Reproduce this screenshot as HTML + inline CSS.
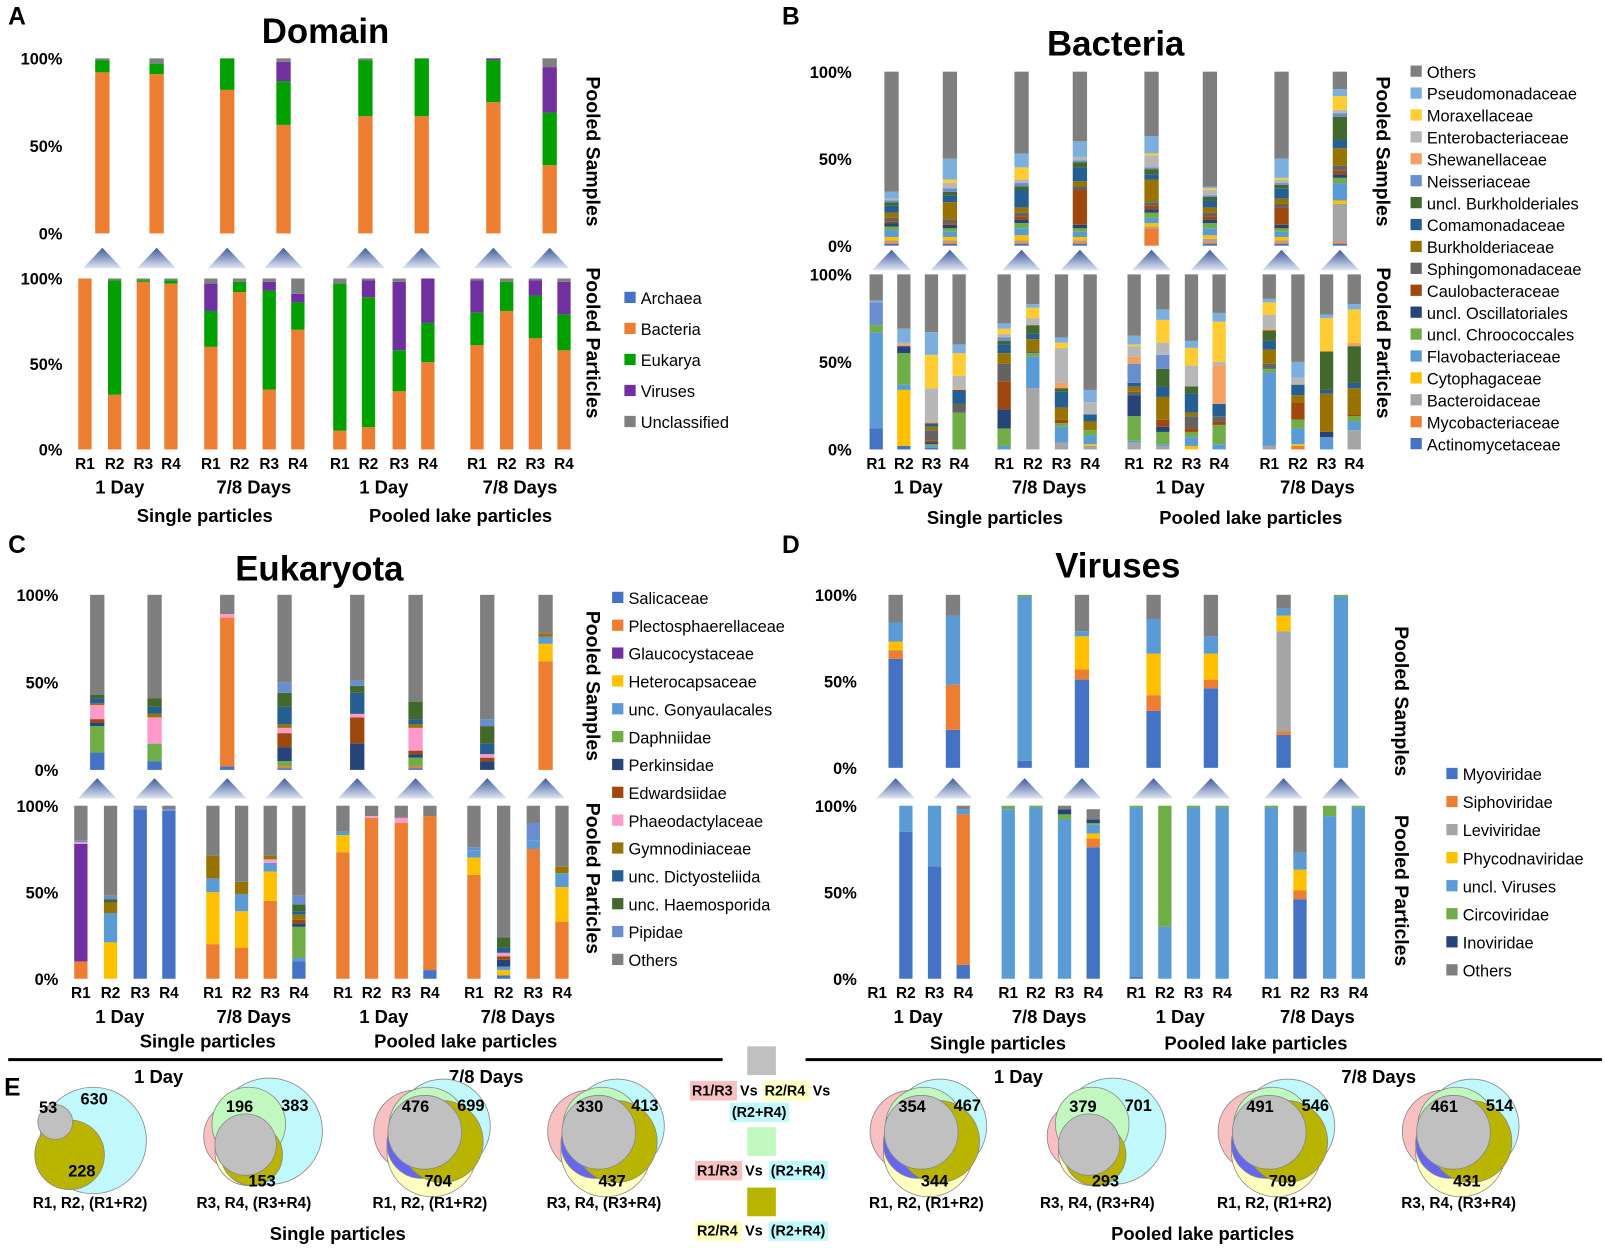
<!DOCTYPE html>
<html><head><meta charset="utf-8"><title>Microbial composition figure</title>
<style>
html,body{margin:0;padding:0;background:#fff;}
svg{display:block;font-family:"Liberation Sans",sans-serif;}
.tk{font-size:16px;font-weight:bold;text-anchor:end;}
.rl{font-size:15px;font-weight:bold;text-anchor:middle;}
.gl{font-size:18px;font-weight:bold;text-anchor:middle;}
.lg{font-size:16px;}
.vt{font-size:19px;font-weight:bold;text-anchor:middle;}
.ttl{font-size:34px;font-weight:bold;text-anchor:middle;}
.pl{font-size:24px;font-weight:bold;}
.vn{font-size:16px;font-weight:bold;text-anchor:middle;}
</style></head>
<body>
<svg id="fig" width="1605" height="1248" viewBox="0 0 1568 1219" preserveAspectRatio="none" xmlns="http://www.w3.org/2000/svg">
<defs>
<linearGradient id="tri" x1="0" y1="0" x2="0" y2="1"><stop offset="0" stop-color="#3d5a9a"/><stop offset="1" stop-color="#dfe6f3"/></linearGradient>
</defs>
</svg>
<script>
// ---------- Panel A: Domain ----------
const domainCats = ["Archaea","Bacteria","Eukarya","Viruses","Unclassified"];
const domainColors = ["#4472C4","#ED7D31","#00A000","#7030A0","#7F7F7F"];
const domainTop = [[0,92,7,0,1],[0,91,6,0,3],[0,82,18,0,0],[0,62,25,11,2],[0,67,32,0,1],[0,67,33,0,0],[0,75,24,1,0],[0,39,30,26,5]];
const domainBottom = [[0,100,0,0,0],[0,32,67,0,1],[0,98,1,0,1],[0,97,2,0,1],[0,60,21,16,3],[0,92,6,0,2],[0,35,58,5,2],[0,70,16,5,9],[0,11,86,0,3],[0,13,76,10,1],[0,34,24,40,2],[0,51,23,26,0],[0,61,19,19,1],[0,81,17,0,2],[0,65,25,9,1],[0,58,21,19,2]];
// ---------- Panel B: Bacteria (bottom-up order) ----------
const bactCats = ["Actinomycetaceae","Mycobacteriaceae","Bacteroidaceae","Cytophagaceae","Flavobacteriaceae","uncl. Chroococcales","uncl. Oscillatoriales","Caulobacteraceae","Sphingomonadaceae","Burkholderiaceae","Comamonadaceae","uncl. Burkholderiales","Neisseriaceae","Shewanellaceae","Enterobacteriaceae","Moraxellaceae","Pseudomonadaceae","Others"];
const bactColors = ["#4472C4","#ED7D31","#A5A5A5","#FFC000","#5B9BD5","#70AD47","#264478","#9E480E","#636363","#997300","#255E91","#43682B","#698ED0","#F4A063","#B7B7B7","#FFCD33","#7CAFDD","#7F7F7F"];
const bactTop = [[1,1,1,2,4,2,2,1,2,3,4,2,1,0,1,0,4,69],[1,1,1,2,3,2,2,1,2,10,4,2,2,0,3,2,12,50],[1,1,1,3,4,3,2,2,2,3,10,2,2,0,2,7,8,47],[1,1,1,2,3,2,2,20,2,3,8,3,1,0,2,0,9,40],[0,10,1,2,3,3,2,2,2,13,3,3,1,0,7,1,10,37],[1,1,2,2,4,3,2,2,2,3,4,2,1,0,3,1,1,66],[1,1,1,2,3,2,2,10,2,3,6,2,1,0,2,1,11,50],[1,1,22,2,10,3,2,2,3,10,5,13,2,0,2,8,4,10]];
const bactBottom = [[12,0,0,0,55,4,0,0,0,0,0,0,13,0,0,0,1,15],[2,0,0,32,3,18,4,0,0,0,0,0,0,1,1,0,8,31],[1,0,0,0,1,1,1,1,6,2,2,0,0,1,19,19,13,33],[0,0,0,0,0,21,0,0,5,0,8,0,0,1,7,13,5,40],[0,0,0,0,2,10,11,16,10,6,5,2,2,0,2,3,3,28],[0,0,35,0,18,2,0,0,1,7,3,5,0,0,4,6,2,17],[0,0,4,0,9,2,0,2,0,7,9,2,0,3,20,3,3,36],[0,0,2,1,5,3,0,0,0,5,4,0,0,0,7,0,7,66],[0,0,4,0,1,14,12,0,2,3,2,0,11,4,6,1,5,35],[0,0,2,0,1,7,3,4,0,13,6,10,8,0,7,13,6,20],[0,0,0,2,5,3,0,2,7,2,11,4,0,0,12,10,4,38],[0,0,0,0,3,11,0,2,3,0,7,0,0,22,2,23,5,22],[0,0,2,0,42,2,0,0,3,8,5,6,0,1,8,7,2,14],[0,2,0,1,9,5,0,10,0,4,6,0,0,0,4,0,9,50],[0,0,0,0,7,0,3,0,0,22,2,22,0,0,0,19,2,23],[0,0,11,0,5,3,0,1,0,15,3,21,0,2,0,19,3,17]];
// ---------- Panel C: Eukaryota ----------
const eukCats = ["Salicaceae","Plectosphaerellaceae","Glaucocystaceae","Heterocapsaceae","unc. Gonyaulacales","Daphniidae","Perkinsidae","Edwardsiidae","Phaeodactylaceae","Gymnodiniaceae","unc. Dictyosteliida","unc. Haemosporida","Pipidae","Others"];
const eukColors = ["#4472C4","#ED7D31","#7030A0","#FFC000","#5B9BD5","#70AD47","#264478","#9E480E","#FF99CC","#997300","#255E91","#43682B","#698ED0","#7F7F7F"];
const eukTop = [[10,0,0,0,0,15,2,2,8,1,3,2,0,57],[5,0,0,0,0,10,0,0,15,2,4,5,0,59],[2,85,0,0,0,0,0,0,2,0,0,0,0,11],[1,1,0,0,0,3,8,8,3,2,10,8,6,50],[0,0,0,0,0,0,15,15,2,0,12,4,3,49],[1,1,0,0,0,5,2,2,13,2,3,10,0,61],[0,0,0,0,0,0,5,2,2,0,6,10,4,71],[0,62,0,10,4,0,0,0,0,2,0,0,0,22]];
const eukBottom = [[0,10,68,0,0,0,0,0,1,0,0,0,1,20],[0,0,0,21,17,0,0,0,0,6,0,2,2,52],[98,0,0,0,0,0,0,0,0,0,0,0,1,1],[97,0,0,0,0,0,0,0,0,0,0,0,1,2],[0,20,0,30,8,0,0,0,0,13,0,0,0,29],[0,18,0,21,10,0,0,0,0,7,0,0,0,44],[0,45,0,17,5,0,0,0,2,2,0,0,0,29],[10,0,0,0,2,18,2,2,0,3,2,4,5,52],[0,73,0,10,2,0,0,0,0,0,0,0,0,15],[0,93,0,0,0,0,0,0,1,0,0,0,0,6],[0,90,0,0,0,0,0,0,3,0,0,0,0,7],[5,89,0,0,0,0,0,0,0,0,0,0,0,6],[0,60,0,10,4,0,0,0,0,0,0,0,2,24],[2,0,0,3,2,0,4,2,2,0,3,6,0,76],[0,75,0,0,5,0,0,0,0,0,0,0,10,10],[0,33,0,20,8,0,0,0,0,4,0,0,0,35]];
// ---------- Panel D: Viruses ----------
const virCats = ["Myoviridae","Siphoviridae","Leviviridae","Phycodnaviridae","uncl. Viruses","Circoviridae","Inoviridae","Others"];
const virColors = ["#4472C4","#ED7D31","#A5A5A5","#FFC000","#5B9BD5","#70AD47","#264478","#7F7F7F"];
const virTop = [[63,5,0,5,11,0,0,16],[22,26,0,0,40,0,0,12],[4,0,0,0,95,1,0,0],[51,6,0,19,3,0,0,21],[33,9,0,24,20,0,0,14],[46,5,0,15,10,0,0,24],[19,2,58,9,4,0,0,8],[0,0,0,0,99,1,0,0]];
const virBottom = [[0,0,0,0,0,0,0,0],[85,0,0,0,15,0,0,0],[65,0,0,0,35,0,0,0],[8,87,0,0,3,0,0,2],[0,0,0,0,98,2,0,0],[0,0,0,0,99,1,0,0],[0,0,0,0,92,3,3,2],[76,5,0,3,5,1,2,6],[1,0,0,0,98,1,0,0],[0,0,0,0,30,70,0,0],[0,0,0,0,99,1,0,0],[0,0,0,0,99,1,0,0],[0,0,0,0,99,1,0,0],[46,5,0,12,10,0,0,27],[0,0,0,0,94,6,0,0],[0,0,0,0,99,1,0,0]];
const tickLabels = ["0%","50%","100%"];
const repLabels = ["R1","R2","R3","R4"];
const vennCounts = [[630,53,228],[196,383,153],[476,699,704],[330,413,437],[354,467,344],[379,701,293],[491,546,709],[461,514,431]];

const NS="http://www.w3.org/2000/svg";
const svg=document.getElementById('fig');
function el(tag,attrs,parent,text){const e=document.createElementNS(NS,tag);for(const k in attrs)e.setAttribute(k,attrs[k]);if(text!==undefined)e.textContent=text;(parent||svg).appendChild(e);return e;}

function stackChart(g,data,xs,y0,y100,colors,cats,w,name){
  const sc=v=>(y0-y100)*v/100;
  data.forEach((vals,i)=>{
    let acc=0;
    vals.forEach((v,j)=>{
      if(v<=0)return;
      const r=el('rect',{x:xs[i]-w/2,y:y0-sc(acc+v),width:w,height:sc(v),fill:colors[j]},g);
      
      
      acc+=v;
    });
  });
}
function ticks(g,x,y0,y100){
  tickLabels.forEach((t,i)=>{const y=y0-(y0-y100)*i/2;
    const tx=el('text',{x:x,y:y+6,class:'tk'},g,t);
    
    });
}
function tris(g,xs,y){
  xs.forEach(x=>{const p=el('polygon',{points:`${x-19},${y+20} ${x+19},${y+20} ${x},${y}`,fill:'url(#tri)'},g);
    
    });
}
function vtext(g,x,y,t,nm){const e=el('text',{x:x,y:y,class:'vt',transform:`rotate(90 ${x} ${y})`},g,t);}
function legend(g,cats,colors,x,y,dy,nm,reverse){
  const order=reverse?cats.map((c,i)=>i).reverse():cats.map((c,i)=>i);
  order.forEach((ci,k)=>{const yy=y+k*dy;
    const gg=el('g',{},g);
    
    
    el('rect',{x:x,y:yy-6,width:11,height:11,fill:colors[ci]},gg);
    el('text',{x:x+16,y:yy+6,class:'lg'},gg,cats[ci]);});
}
function xlabels(g,xs,y,groups,gy,caps,cy){
  xs.forEach((x,i)=>{const t=el('text',{x:x,y:y,class:'rl'},g,repLabels[i%4]);});
  groups.forEach(([x,t])=>{const e=el('text',{x:x,y:gy,class:'gl'},g,t);});
  caps.forEach(([x,t])=>{const e=el('text',{x:x,y:cy,class:'gl'},g,t);});
}
function panel(o){
  const g=el('g',{});
  const L=el('text',{x:o.lx,y:o.ly,class:'pl'},g,o.letter);
  const T=el('text',{x:o.tx,y:o.ty,class:'ttl'},g,o.title);
  stackChart(g,o.top,o.topX,o.t0,o.t100,o.colors,o.cats,14,o.name+'-samples');
  stackChart(g,o.bot,o.botX,o.b0,o.b100,o.colors,o.cats,13,o.name+'-particles');
  ticks(g,o.tickX,o.t0,o.t100);ticks(g,o.tickX,o.b0,o.b100);
  tris(g,o.topX,o.triY);
  vtext(g,o.vx,o.vy1,'Pooled Samples','pooled-samples-axis-title');
  vtext(g,o.vx,o.vy2,'Pooled Particles','pooled-particles-axis-title');
  legend(g,o.cats,o.colors,o.legX,o.legY,o.legDy,o.name,o.rev);
  xlabels(g,o.botX,o.ry,o.groups,o.gy,o.caps,o.cy);
}
panel({name:'domain',letter:'A',lx:8,ly:24,title:'Domain',tx:318,ty:42,top:domainTop,bot:domainBottom,cats:domainCats,colors:domainColors,
 topX:[100,153,222,277,357,412,482,537],botX:[83,112,140,167,206,234,263,291,332,360,390,418,466,495,523,551],
 t0:228,t100:57,b0:439,b100:272,tickX:61,triY:242,vx:573,vy1:148,vy2:335,legX:610,legY:291,legDy:30.3,rev:false,
 ry:458,groups:[[117,'1 Day'],[248,'7/8 Days'],[375,'1 Day'],[508,'7/8 Days']],gy:482,caps:[[200,'Single particles'],[450,'Pooled lake particles']],cy:510});
panel({name:'bacteria',letter:'B',lx:764,ly:24,title:'Bacteria',tx:1090,ty:54,top:bactTop,bot:bactBottom,cats:bactCats,colors:bactColors,
 topX:[871,928,998,1055,1125,1182,1252,1309],botX:[856,883,910,937,981,1009,1037,1065,1108,1136,1164,1191,1240,1268,1296,1323],
 t0:240,t100:70,b0:439,b100:268,tickX:832,triY:244,vx:1345,vy1:148,vy2:335,legX:1378,legY:70,legDy:21.4,rev:true,
 ry:458,groups:[[897,'1 Day'],[1025,'7/8 Days'],[1153,'1 Day'],[1287,'7/8 Days']],gy:482,caps:[[972,'Single particles'],[1222,'Pooled lake particles']],cy:512});
panel({name:'eukaryota',letter:'C',lx:8,ly:540,title:'Eukaryota',tx:312,ty:567,top:eukTop,bot:eukBottom,cats:eukCats,colors:eukColors,
 topX:[95,151,222,278,349,406,476,533],botX:[79,108,137,165,208,236,264,292,335,363,392,420,463,492,521,549],
 t0:752,t100:581,b0:956,b100:787,tickX:57,triY:760,vx:573,vy1:670,vy2:858,legX:598,legY:584,legDy:27.2,rev:false,
 ry:975,groups:[[117,'1 Day'],[248,'7/8 Days'],[375,'1 Day'],[506,'7/8 Days']],gy:999,caps:[[203,'Single particles'],[455,'Pooled lake particles']],cy:1023});
panel({name:'viruses',letter:'D',lx:764,ly:540,title:'Viruses',tx:1092,ty:564,top:virTop,bot:virBottom,cats:virCats,colors:virColors,
 topX:[875,931,1001,1057,1127,1183,1254,1310],botX:[857,885,913,941,985,1012,1040,1068,1110,1138,1166,1194,1242,1270,1299,1327],
 t0:750,t100:581,b0:956,b100:787,tickX:837,triY:760,vx:1363,vy1:685,vy2:870,legX:1413,legY:756,legDy:27.4,rev:false,
 ry:975,groups:[[897,'1 Day'],[1025,'7/8 Days'],[1153,'1 Day'],[1287,'7/8 Days']],gy:999,caps:[[975,'Single particles'],[1227,'Pooled lake particles']],cy:1025});

// ---------- Panel E: Venn diagrams ----------
const gE=el('g',{});
el('line',{x1:8,y1:1035,x2:706,y2:1035,stroke:'#000','stroke-width':3},gE);
el('line',{x1:787,y1:1035,x2:1565,y2:1035,stroke:'#000','stroke-width':3},gE);
el('text',{x:4,y:1070,class:'pl'},gE,'E');
[[155,'1 Day'],[475,'7/8 Days'],[995,'1 Day'],[1347,'7/8 Days']].forEach(([x,t])=>{const e=el('text',{x:x,y:1058,class:'gl'},gE,t);});
[[330,'Single particles'],[1175,'Pooled lake particles']].forEach(([x,t])=>{const e=el('text',{x:x,y:1211,class:'gl'},gE,t);});
const vennCX=[88,248,420,590,905,1072,1245,1425];
const vennCap=['R1, R2, (R1+R2)','R3, R4, (R3+R4)','R1, R2, (R1+R2)','R3, R4, (R3+R4)','R1, R2, (R1+R2)','R3, R4, (R3+R4)','R1, R2, (R1+R2)','R3, R4, (R3+R4)'];
vennCX.forEach((cx,i)=>{
  const g=el('g',{},gE);
  
  
  const st={stroke:'#888','stroke-width':0.8};
  const C=(x,y,r,f)=>el('circle',Object.assign({cx:x,cy:y,r:r,fill:f},st),g);
  if(i===0){
    C(cx-30,1100,18,'#f8c0c0');C(cx-22,1125,30,'#ffffc0');C(cx+3,1114,52,'#c0f8fc');C(cx-20,1128,34,'#b8b400');C(cx-34,1096,17,'#c0c0c0');
  }else if(i===1||i===5){
    C(cx-15,1110,34,'#f8c0c0');C(cx-5,1125,33,'#ffffc0');C(cx+15,1105,52,'#c0f8fc');C(cx-5,1098,36,'#c0f8c0');C(cx-2,1128,30,'#b8b400');C(cx-8,1118,30,'#c0c0c0');
  }else{
    C(cx-15,1105,40,'#f8c0c0');C(cx+2,1125,44,'#ffffc0');C(cx+13,1100,46,'#c0f8fc');C(cx-2,1100,38,'#c0f8c0');C(cx-8,1117,34,'#6666ee');C(cx+12,1115,40,'#b8b400');C(cx-5,1106,36,'#c0c0c0');
  }
  const n=vennCounts[i];
  const pos=i===0?[[cx+4,1079],[cx-41,1087],[cx-8,1149]]:[[cx-14,1086],[cx+40,1085],[cx+8,1159]];
  n.forEach((v,k)=>{const t=el('text',{x:pos[k][0],y:pos[k][1],class:'vn'},g,String(v));});
  const c=el('text',{x:cx,y:1180,class:'rl','font-size':'14'},g,vennCap[i]);
});
// venn legend
const gL=el('g',{},gE);
el('rect',{x:730,y:1022,width:28,height:28,fill:'#c0c0c0'},gL);
el('rect',{x:730,y:1101,width:28,height:28,fill:'#c0f8c0'},gL);
el('rect',{x:730,y:1160,width:28,height:28,fill:'#b8b400'},gL);
function hl(x,y,w,c,t){el('rect',{x:x,y:y-14,width:w,height:19,fill:c},gL);el('text',{x:x+2,y:y,'font-size':'14','font-weight':'bold'},gL,t);}
function vs(x,y){el('text',{x:x,y:y,'font-size':'14','font-weight':'bold'},gL,'Vs');}
hl(674,1070,46,'#f8c0c0','R1/R3');vs(723,1070);
hl(745,1070,46,'#ffffc0','R2/R4');vs(794,1070);
hl(713,1091,58,'#c0f8fc','(R2+R4)');
hl(679,1148,46,'#f8c0c0','R1/R3');vs(728,1148);hl(751,1148,58,'#c0f8fc','(R2+R4)');
hl(679,1207,46,'#ffffc0','R2/R4');vs(728,1207);hl(751,1207,58,'#c0f8fc','(R2+R4)');
</script>
</body></html>
